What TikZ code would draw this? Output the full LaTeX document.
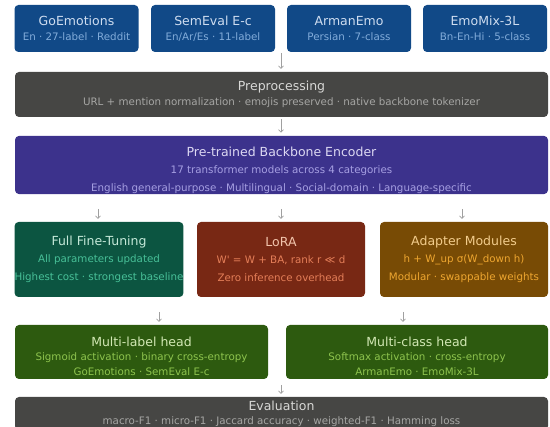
\documentclass[tikz,border=0pt]{standalone}
\usepackage{fontspec}
\setmainfont{DejaVu Sans}
\usetikzlibrary{arrows.meta,positioning}

\definecolor{dsblue}{HTML}{114987}
\definecolor{dsbluet}{HTML}{CFDDF0}
\definecolor{dsblues}{HTML}{82ACDA}
\definecolor{prepgray}{HTML}{464644}
\definecolor{prept}{HTML}{D8D8D6}
\definecolor{preps}{HTML}{A6A6A4}
\definecolor{encblue}{HTML}{3C328C}
\definecolor{enct}{HTML}{DCD8F2}
\definecolor{encs}{HTML}{A69FE2}
\definecolor{ftgreen}{HTML}{0C5541}
\definecolor{ftt}{HTML}{C4E8D8}
\definecolor{fts}{HTML}{48C098}
\definecolor{lorared}{HTML}{782814}
\definecolor{lorat}{HTML}{F2C4AC}
\definecolor{loras}{HTML}{E47E58}
\definecolor{adabrown}{HTML}{784B05}
\definecolor{adat}{HTML}{F2CC8C}
\definecolor{adas}{HTML}{EEA630}
\definecolor{headgreen}{HTML}{2D5A0F}
\definecolor{headt}{HTML}{D2E8B4}
\definecolor{heads}{HTML}{8EC44E}
\definecolor{arrgray}{HTML}{A0A0A0}

\newcommand{\ttl}[2]{\textcolor{#1}{\fontsize{12.5}{14}\selectfont #2}}

\begin{document}
\begin{tikzpicture}
	[x=1pt,y=-1pt,
	box/.style={rectangle,rounded corners=4pt,inner sep=0pt,align=center,
		font=\fontsize{10.3}{12}\selectfont},
	data/.style={box,fill=dsblue,text=dsblues,minimum width=124pt,minimum height=47pt},
	wide/.style={box,minimum width=533pt},
	tune/.style={box,minimum width=168pt,minimum height=75pt},
	head/.style={box,fill=headgreen,text=heads,minimum height=54pt},
	arr/.style={draw=arrgray,line width=0.7pt,-{Straight Barb[length=2.5pt,width=5pt]},shorten >=3pt}]
	\useasboundingbox (0,0) rectangle (550,427);
	% datasets
	\node[data] (goemo) at (76.5,28.5) {\ttl{dsbluet}{GoEmotions}\\[3pt] En · 27-label · Reddit};
	\node[data] (semeval) at (213,28.5) {\ttl{dsbluet}{SemEval E-c}\\[3pt] En/Ar/Es · 11-label};
	\node[data] (arman) at (349,28.5) {\ttl{dsbluet}{ArmanEmo}\\[3pt] Persian · 7-class};
	\node[data] (emomix) at (485,28.5) {\ttl{dsbluet}{EmoMix-3L}\\[3pt] Bn-En-Hi · 5-class};
	% preprocessing and encoder
	\node[wide,fill=prepgray,text=preps,minimum height=45pt] (prep) at (281.5,94.5)
		{\ttl{prept}{Preprocessing}\\[3pt] URL + mention normalization · emojis preserved · native backbone tokenizer};
	\node[wide,fill=encblue,text=encs,minimum height=58pt] (enc) at (281.5,165)
		{\rule{0pt}{21pt}\ttl{enct}{Pre-trained Backbone Encoder}\\[5pt] 17 transformer models across 4 categories\\[6pt]
		English general-purpose · Multilingual · Social-domain · Language-specific};
	% fine-tuning strategies
	\node[tune,fill=ftgreen,text=fts] (fullft) at (99,259.5)
		{\ttl{ftt}{Full Fine-Tuning}\\[5pt] All parameters updated\\[6pt] Highest cost · strongest baseline};
	\node[tune,fill=lorared,text=loras] (lora) at (281,259.5)
		{\ttl{lorat}{LoRA}\\[5pt] W\textquotesingle{} = W + BA, rank r ≪ d\\[6pt] Zero inference overhead};
	\node[tune,fill=adabrown,text=adas] (adapter) at (464,259.5)
		{\ttl{adat}{Adapter Modules}\\[5pt] h + W\_up σ(W\_down h)\\[6pt] Modular · swappable weights};
	% heads
	\node[head,minimum width=253pt] (mlhead) at (141.5,352)
		{\rule{0pt}{19pt}\ttl{headt}{Multi-label head}\\[2pt] Sigmoid activation · binary cross-entropy\\[3pt] GoEmotions · SemEval E-c};
	\node[head,minimum width=262pt] (mchead) at (417,352)
		{\rule{0pt}{19pt}\ttl{headt}{Multi-class head}\\[2pt] Softmax activation · cross-entropy\\[3pt] ArmanEmo · EmoMix-3L};
	\node[wide,fill=prepgray,text=preps,minimum height=33pt] (eval) at (281.5,413.5)
		{\ttl{prept}{Evaluation}\\[2pt] macro-F1 · micro-F1 · Jaccard accuracy · weighted-F1 · Hamming loss};
	% arrows
	\coordinate (a0) at (281,53);
	\coordinate (a1) at (281,119);
	\coordinate (b1) at (98,209);
	\coordinate (b2) at (281,209);
	\coordinate (b3) at (462,209);
	\coordinate (c1) at (159,312);
	\coordinate (c2) at (403,312);
	\coordinate (d1) at (281,385);
	\draw[arr] (a0) -- (a0 |- prep.north);
	\draw[arr] (a1) -- (a1 |- enc.north);
	\draw[arr] (b1) -- (b1 |- fullft.north);
	\draw[arr] (b2) -- (b2 |- lora.north);
	\draw[arr] (b3) -- (b3 |- adapter.north);
	\draw[arr] (c1) -- (c1 |- mlhead.north);
	\draw[arr] (c2) -- (c2 |- mchead.north);
	\draw[arr] (d1) -- (d1 |- eval.north);
\end{tikzpicture}
\end{document}
